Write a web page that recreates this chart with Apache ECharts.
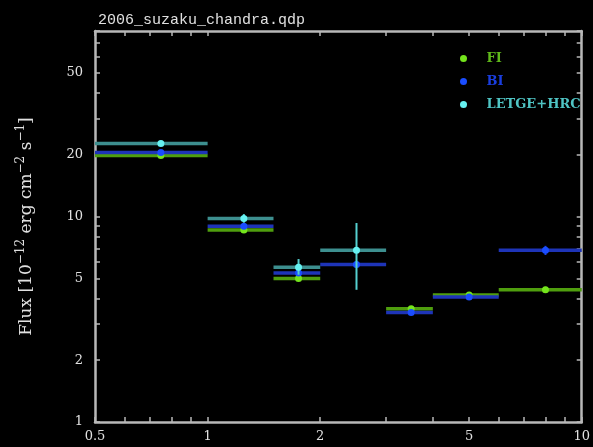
<!DOCTYPE html>
<html>
<head>
<meta charset="utf-8">
<script src="https://cdn.jsdelivr.net/npm/echarts@6/dist/echarts.min.js"></script>
<style>html,body{margin:0;padding:0;background:#000;}#c{width:593px;height:447px;}</style>
</head>
<body>
<div id="c"></div>
<script>
// Energy bins (keV)
const binLo  = [0.5, 1.0, 1.5, 2.0, 3.0, 4.0, 6.0];
const binHi  = [1.0, 1.5, 2.0, 3.0, 4.0, 6.0, 10.0];
const binMid = [0.75, 1.25, 1.75, 2.5, 3.5, 5.0, 8.0];
// Flux (1e-12 erg cm^-2 s^-1)
const fluxFI    = [19.8, 8.6, 5.0, null, 3.56, 4.15, 4.40];
const errFI     = [0.3, 0.15, 0.12, null, 0.08, 0.08, 0.15];
const fluxBI    = [20.5, 8.97, 5.31, 5.85, 3.41, 4.06, 6.85];
const errBI     = [0.4, 0.2, 0.15, 0.2, 0.1, 0.12, 0.35];
const fluxLETG  = [22.7, 9.78, 5.66, 6.85, null, null, null];
const errLETGlo = [0.7, 0.45, 0.45, 2.45, null, null, null];
const errLETGhi = [0.7, 0.5, 0.55, 2.45, null, null, null];
const seriesNames = ['FI', 'BI', 'LETGE+HRC'];
const xTicks = [0.5, 0.6, 0.7, 0.8, 0.9, 1, 2, 3, 4, 5, 6, 7, 8, 9, 10];
const xLabels = [0.5, 1, 2, 5, 10];
const yTicks = [1, 2, 3, 4, 5, 6, 7, 8, 9, 10, 20, 30, 40, 50, 60, 70, 80];
const yLabels = [1, 2, 5, 10, 20, 50];

function build(flux, eLo, eHi) {
  const out = [];
  for (let i = 0; i < flux.length; i++) {
    if (flux[i] == null) continue;
    out.push([binLo[i], binHi[i], binMid[i], flux[i], flux[i] - eLo[i], flux[i] + eHi[i]]);
  }
  return out;
}

function makeRender(lineColor, pointColor, errColor) {
  return function (params, api) {
    const lo = api.coord([api.value(0), api.value(3)]);
    const hi = api.coord([api.value(1), api.value(3)]);
    const mid = api.coord([api.value(2), api.value(3)]);
    const eb = api.coord([api.value(2), api.value(4)]);
    const et = api.coord([api.value(2), api.value(5)]);
    return {
      type: 'group',
      children: [
        { type: 'line', shape: { x1: lo[0], y1: lo[1], x2: hi[0], y2: hi[1] },
          style: { stroke: lineColor, lineWidth: 3.5 } },
        { type: 'line', shape: { x1: eb[0], y1: eb[1], x2: et[0], y2: et[1] },
          style: { stroke: errColor, lineWidth: 2 } },
        { type: 'circle', shape: { cx: mid[0], cy: mid[1], r: 3.5 },
          style: { fill: pointColor } }
      ]
    };
  };
}

const colors = {
  FI:   { line: '#4f9e0e', point: '#74e41c', err: '#66c818', text: '#5fb81a' },
  BI:   { line: '#1e34b8', point: '#1a4dff', err: '#1a44e8', text: '#1a3ee0' },
  LETG: { line: '#3d8f8f', point: '#66f2f2', err: '#55d0d0', text: '#4fc4c4' }
};

const axisCommon = {
  type: 'log',
  logBase: 10,
  axisLine: { show: true, onZero: false, lineStyle: { color: '#b8b8b8', width: 2.5 } },
  splitLine: { show: false },
  minorTick: { show: false },
  minorSplitLine: { show: false }
};

const serif = 'DejaVu Serif';

const chart = echarts.init(document.getElementById('c'));
chart.setOption({
  backgroundColor: '#000',
  animation: false,
  title: {
    text: '2006_suzaku_chandra.qdp',
    left: 93, top: 8,
    textStyle: { color: '#e0e0e0', fontFamily: 'Liberation Mono', fontSize: 15, fontWeight: 'normal' }
  },
  legend: {
    orient: 'vertical',
    left: 455, top: 47,
    icon: 'circle',
    itemWidth: 36, itemHeight: 7,
    itemGap: 10,
    textStyle: { fontFamily: serif, fontSize: 13, fontWeight: 'bold' },
    data: [
      { name: 'FI', textStyle: { color: colors.FI.text } },
      { name: 'BI', textStyle: { color: colors.BI.text } },
      { name: 'LETGE+HRC', textStyle: { color: colors.LETG.text } }
    ]
  },
  grid: { left: 95, right: 10, top: 31, bottom: 25 },
  xAxis: [
    Object.assign({}, axisCommon, {
      position: 'bottom', min: 0.5, max: 10,
      axisTick: { show: true, inside: true, length: 5, customValues: xTicks, lineStyle: { color: '#b8b8b8', width: 1.5 } },
      axisLabel: { show: true, customValues: xLabels, color: '#e0e0e0', fontFamily: serif, fontSize: 13, margin: 8,
        showMinLabel: true, showMaxLabel: true, formatter: v => String(v) }
    }),
    Object.assign({}, axisCommon, {
      position: 'top', min: 0.5, max: 10,
      axisTick: { show: true, inside: true, length: 5, customValues: xTicks, lineStyle: { color: '#b8b8b8', width: 1.5 } },
      axisLabel: { show: false }
    })
  ],
  yAxis: [
    Object.assign({}, axisCommon, {
      position: 'left', min: 1, max: 80,
      name: '{n|Flux [10}{s|−12}{n| erg cm}{s|−2}{n| s}{s|−1}{n|]}',
      nameLocation: 'middle', nameGap: 60, nameRotate: 90,
      nameTextStyle: {
        color: '#e0e0e0',
        rich: {
          n: { fontFamily: serif, fontSize: 17, color: '#e0e0e0', verticalAlign: 'bottom', lineHeight: 20 },
          s: { fontFamily: serif, fontSize: 12, color: '#e0e0e0', verticalAlign: 'top', lineHeight: 20 }
        }
      },
      axisTick: { show: true, inside: true, length: 5, customValues: yTicks, lineStyle: { color: '#b8b8b8', width: 1.5 } },
      axisLabel: { show: true, customValues: yLabels, color: '#e0e0e0', fontFamily: serif, fontSize: 13, margin: 12,
        showMinLabel: true, formatter: v => String(v) }
    }),
    Object.assign({}, axisCommon, {
      position: 'right', min: 1, max: 80,
      axisTick: { show: true, inside: true, length: 5, customValues: yTicks, lineStyle: { color: '#b8b8b8', width: 1.5 } },
      axisLabel: { show: false }
    })
  ],
  series: [
    { name: 'FI', type: 'custom', xAxisIndex: 0, yAxisIndex: 0,
      itemStyle: { color: colors.FI.point },
      renderItem: makeRender(colors.FI.line, colors.FI.point, colors.FI.err),
      encode: { x: [0, 1, 2], y: [3, 4, 5] },
      data: build(fluxFI, errFI, errFI) },
    { name: 'BI', type: 'custom', xAxisIndex: 0, yAxisIndex: 0,
      itemStyle: { color: colors.BI.point },
      renderItem: makeRender(colors.BI.line, colors.BI.point, colors.BI.err),
      encode: { x: [0, 1, 2], y: [3, 4, 5] },
      data: build(fluxBI, errBI, errBI) },
    { name: 'LETGE+HRC', type: 'custom', xAxisIndex: 0, yAxisIndex: 0,
      itemStyle: { color: colors.LETG.point },
      renderItem: makeRender(colors.LETG.line, colors.LETG.point, colors.LETG.err),
      encode: { x: [0, 1, 2], y: [3, 4, 5] },
      data: build(fluxLETG, errLETGlo, errLETGhi) }
  ]
});
</script>
</body>
</html>
